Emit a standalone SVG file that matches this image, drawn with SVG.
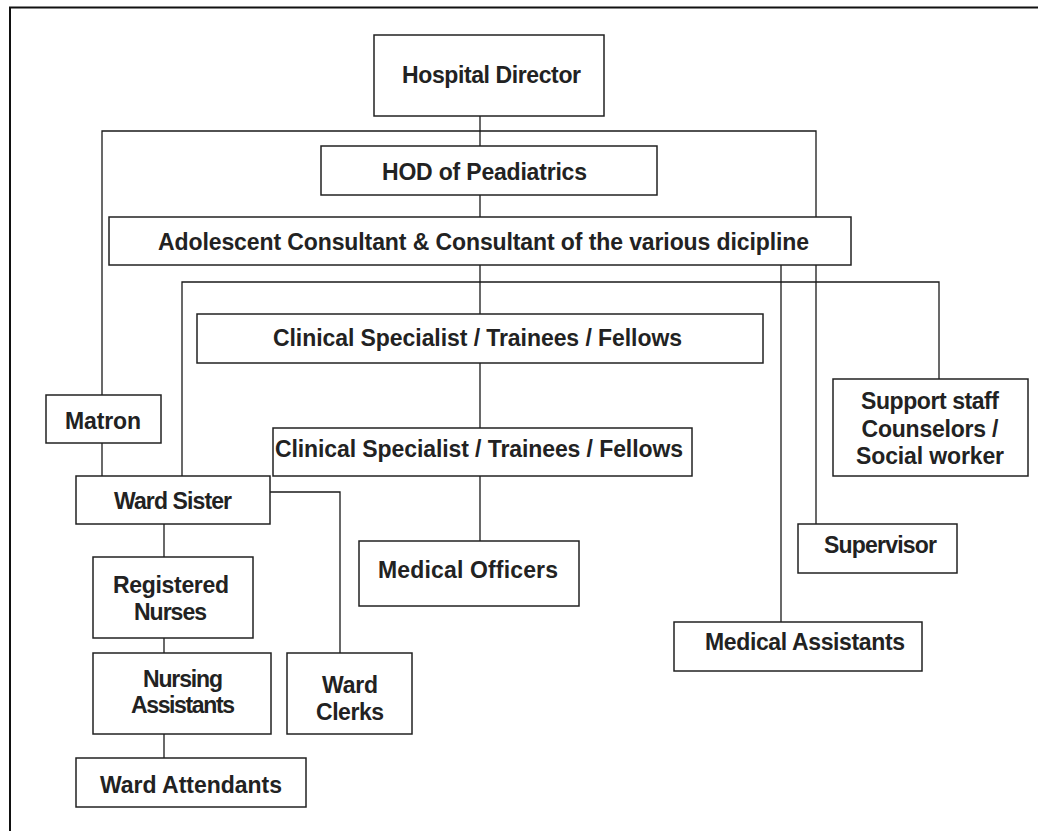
<svg xmlns="http://www.w3.org/2000/svg" width="1038" height="831" viewBox="0 0 1038 831">
<style>
.box{fill:#fff;stroke:#222;stroke-width:1.5}
.ln{fill:none;stroke:#1a1a1a;stroke-width:1.3}
.frame{fill:none;stroke:#111;stroke-width:2}
text{font-family:"Liberation Sans",Arial,sans-serif;font-weight:bold;font-size:23px;fill:#222;text-anchor:middle}
</style>
<rect width="1038" height="831" fill="#fff"/>
<path class="frame" d="M10,831 V7.5 H1038"/>
<g id="connectors">
<path class="ln" d="M480,116 V146"/>
<path class="ln" d="M102,395 V131 H816 V524"/>
<path class="ln" d="M480,195 V217"/>
<path class="ln" d="M480,265 V314"/>
<path class="ln" d="M182,476 V282 H939 V379"/>
<path class="ln" d="M781,265 V622"/>
<path class="ln" d="M480,363 V428"/>
<path class="ln" d="M480,476 V541"/>
<path class="ln" d="M102,443 V476"/>
<path class="ln" d="M270,492 H340 V653"/>
<path class="ln" d="M164,524 V557"/>
<path class="ln" d="M164,638 V653"/>
<path class="ln" d="M164,734 V758"/>
</g>
<g id="hospital-director"><rect class="box" x="374" y="35" width="230" height="81"/><text x="491.5" y="83" textLength="179">Hospital Director</text></g>
<g id="hod"><rect class="box" x="321" y="146" width="336" height="49"/><text x="484.5" y="180" textLength="205">HOD of Peadiatrics</text></g>
<g id="adolescent"><rect class="box" x="109" y="217" width="742" height="48"/><text x="483.5" y="250" textLength="651">Adolescent Consultant &amp; Consultant of the various dicipline</text></g>
<g id="clinical-1"><rect class="box" x="197" y="314" width="566" height="49"/><text x="477.5" y="346" textLength="409">Clinical Specialist / Trainees / Fellows</text></g>
<g id="clinical-2"><rect class="box" x="273" y="428" width="419" height="48"/><text x="479" y="457" textLength="408">Clinical Specialist / Trainees / Fellows</text></g>
<g id="medical-officers"><rect class="box" x="359" y="541" width="220" height="65"/><text x="468" y="578" textLength="180">Medical Officers</text></g>
<g id="matron"><rect class="box" x="46" y="395" width="115" height="48"/><text x="103" y="429" textLength="76">Matron</text></g>
<g id="ward-sister"><rect class="box" x="76" y="476" width="194" height="48"/><text x="173" y="509" textLength="118">Ward Sister</text></g>
<g id="registered-nurses"><rect class="box" x="93" y="557" width="160" height="81"/><text x="171" y="593" textLength="116">Registered</text><text x="170.5" y="620" textLength="73">Nurses</text></g>
<g id="nursing-assistants"><rect class="box" x="93" y="653" width="178" height="81"/><text x="183" y="687" textLength="80">Nursing</text><text x="183" y="713" textLength="104">Assistants</text></g>
<g id="ward-clerks"><rect class="box" x="287" y="653" width="125" height="81"/><text x="350" y="693" textLength="56">Ward</text><text x="350" y="720" textLength="68">Clerks</text></g>
<g id="ward-attendants"><rect class="box" x="76" y="758" width="230" height="49"/><text x="191" y="793" textLength="182">Ward Attendants</text></g>
<g id="support-staff"><rect class="box" x="833" y="379" width="195" height="97"/><text x="930" y="409" textLength="138">Support staff</text><text x="930" y="437" textLength="137">Counselors /</text><text x="930" y="464" textLength="148">Social worker</text></g>
<g id="supervisor"><rect class="box" x="798" y="524" width="159" height="49"/><text x="880.5" y="553" textLength="113">Supervisor</text></g>
<g id="medical-assistants"><rect class="box" x="674" y="622" width="248" height="49"/><text x="805" y="650" textLength="200">Medical Assistants</text></g>
</svg>
